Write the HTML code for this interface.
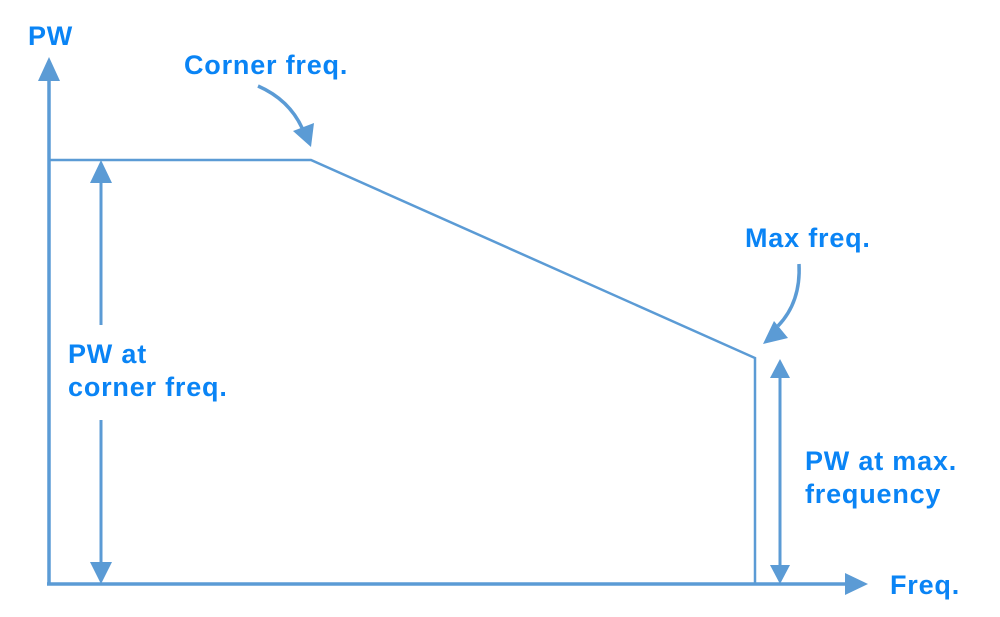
<!DOCTYPE html>
<html><head><style>
html,body{margin:0;padding:0;background:#fff;}
svg{display:block;}
text{font-family:"Liberation Sans",Arial,sans-serif;font-weight:bold;fill:#0a84f5;font-size:27px;letter-spacing:0.8px;}
</style></head><body>
<svg width="1000" height="617" viewBox="0 0 1000 617">
<g stroke="#5b9bd5" fill="none">
<line x1="49" y1="585" x2="49" y2="75" stroke-width="3.5"/>
<line x1="47" y1="584" x2="850" y2="584" stroke-width="3.5"/>
<polyline points="49,160 311,160 755,358 755,584" stroke-width="2.5"/>
<line x1="101" y1="178" x2="101" y2="325" stroke-width="3"/>
<line x1="101" y1="420" x2="101" y2="566" stroke-width="3"/>
<line x1="780" y1="375" x2="780" y2="566" stroke-width="3"/>
<path d="M258,86 Q290,100 303,130" stroke-width="3.5"/>
<path d="M799,264 Q801,302 778,326" stroke-width="3.5"/>
</g>
<g fill="#5b9bd5">
<polygon points="49,57 38,81 60,81"/>
<polygon points="868,584 845,573 845,595"/>
<polygon points="101,160 90,183 112,183"/>
<polygon points="101,584 90,562 112,562"/>
<polygon points="780,359 770,378 790,378"/>
<polygon points="780,584 770,565 790,565"/>
<polygon points="311,147 293,131 314,123"/>
<polygon points="763,344 788,338 774,321"/>
</g>
<text x="28" y="45">PW</text>
<text x="184" y="74">Corner freq.</text>
<text x="745" y="247">Max freq.</text>
<text x="68" y="363">PW at</text>
<text x="68" y="396">corner freq.</text>
<text x="805" y="470">PW at max.</text>
<text x="805" y="503">frequency</text>
<text x="890" y="594">Freq.</text>
</svg>
</body></html>
